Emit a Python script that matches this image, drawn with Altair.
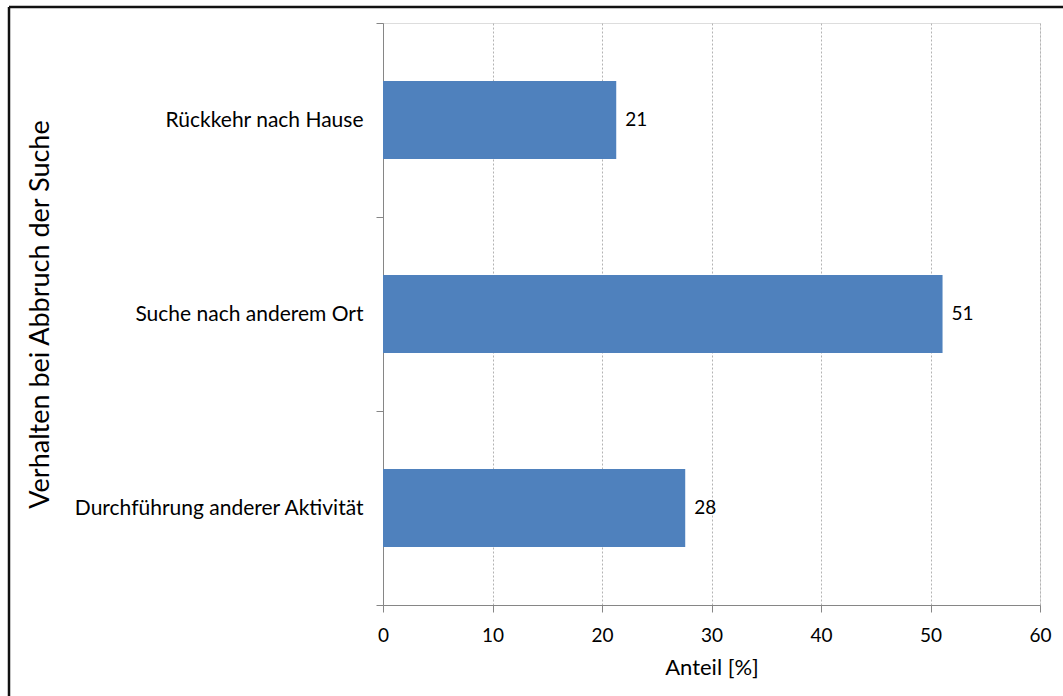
import altair as alt
import pandas as pd

categories = ["Rückkehr nach Hause", "Suche nach anderem Ort", "Durchführung anderer Aktivität"]
values = [21.3, 51.1, 27.6]
labels = ["21", "51", "28"]

df = pd.DataFrame({"cat": categories, "val": values, "lab": labels})

FONT = "Lato"
W, H = 657, 582

base = alt.Chart(df)

y_enc = alt.Y(
    "cat:N",
    sort=categories,
    scale=alt.Scale(paddingInner=0, paddingOuter=0),
    axis=alt.Axis(
        title="Verhalten bei Abbruch der Suche",
        titleFontSize=27,
        titleFontWeight="normal",
        titleColor="#000000",
        titleFont=FONT,
        titleAngle=-90,
        titleX=-343,
        titleY=H / 2,
        titleAlign="center",
        titleBaseline="middle",
        labelFont=FONT,
        labelFontSize=21,
        labelColor="#000000",
        labelPadding=13,
        tickSize=7,
        tickColor="#868686",
        domainColor="#868686",
        tickBand="extent",
        grid=False,
        labelLimit=400,
    ),
)

x_enc = alt.X(
    "val:Q",
    scale=alt.Scale(domain=[0, 60], nice=False),
    axis=alt.Axis(
        title="Anteil [%]",
        values=[0, 10, 20, 30, 40, 50, 60],
        titleFont=FONT,
        titleFontSize=22,
        titleFontWeight="normal",
        titleColor="#000000",
        titlePadding=12,
        labelFont=FONT,
        labelFontSize=19,
        labelColor="#000000",
        labelPadding=14,
        labelFlush=False,
        labelOverlap=False,
        tickSize=7,
        tickColor="#868686",
        domainColor="#868686",
        grid=True,
        gridColor="#b3b3b3",
        gridDash=[2, 2],
        gridWidth=1,
    ),
)

bars = base.mark_bar(color="#4f81bd", size=78).encode(x=x_enc, y=y_enc)

texts = base.mark_text(align="left", baseline="middle", dx=9, font=FONT, fontSize=19, color="#000000").encode(
    x="val:Q", y=alt.Y("cat:N", sort=categories), text="lab:N"
)

frame_data = alt.Data(values=[{"k": 1}])
frame_top = alt.Chart(frame_data).mark_rule(color="#111111", strokeWidth=2.5).encode(
    x=alt.value(-374), x2=alt.value(800), y=alt.value(-16)
)
frame_left = alt.Chart(frame_data).mark_rule(color="#111111", strokeWidth=2.5).encode(
    x=alt.value(-374), y=alt.value(-16), y2=alt.value(800)
)

chart = alt.layer(bars, texts, frame_top, frame_left).properties(
    width=W,
    height=H,
    autosize=alt.AutoSizeParams(type="none"),
    padding={"left": 383, "top": 23, "right": 23, "bottom": 91},
).configure_view(stroke="#d9d9d9", strokeWidth=1.5).configure(background="white")

chart.save("out.html", embed_options={"renderer": "svg", "actions": False})
